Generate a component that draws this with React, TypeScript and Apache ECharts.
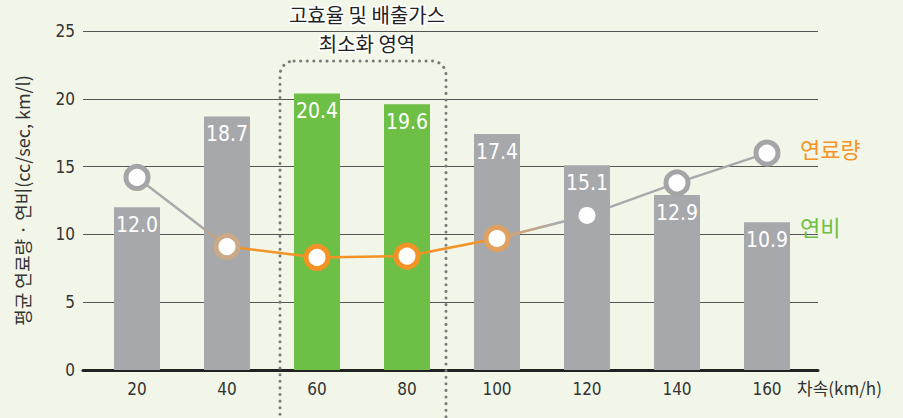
import React, { useEffect, useRef } from "react";
import * as echarts from "echarts";

// ---- data ----
const speeds = ["20", "40", "60", "80", "100", "120", "140", "160"];
const efficiency = [12.0, 18.7, 20.4, 19.6, 17.4, 15.1, 12.9, 10.9]; // 연비 (km/l)
const fuelAmount = [14.2, 9.1, 8.3, 8.4, 9.7, 11.4, 13.8, 16.0]; // 연료량 (cc/sec)
const optimalSpeeds = ["60", "80"];
const yTicks = { min: 0, max: 25, interval: 5 };
const titleLines = ["고효율 및 배출가스", "최소화 영역"];

// ---- styles ----
const GRAY = "#a7a8ab";
const GREEN = "#6dbf45";
const ORANGE = "#f39325";
const RING_COLORS = ["#a5a5a7", "#c9a987", ORANGE, ORANGE, "#e0a060", "#ffffff", "#a5a5a7", "#a5a5a7"];
const NARROW = "'Liberation Sans Narrow', 'DejaVu Sans Condensed', 'Roboto', sans-serif";
const KR = "'Noto Sans CJK KR', 'Noto Sans', sans-serif";
const BG = "#f1f6e9";

export default function App() {
  const ref = useRef<HTMLDivElement>(null);

  useEffect(() => {
    if (!ref.current) return;
    const chart = echarts.init(ref.current, null, { renderer: "svg" });

    const option: any = {
      animation: false,
      backgroundColor: BG,
      grid: [
        { left: 83, top: 31, width: 735, height: 339 },
        { left: 92, top: 31, width: 720, height: 339 },
      ],
      xAxis: [
        {
          gridIndex: 0,
          type: "value",
          min: 0,
          max: 1,
          axisLine: { show: true, onZero: false, lineStyle: { color: "#222", width: 3 } },
          axisTick: { show: false },
          axisLabel: { show: false },
          splitLine: { show: false },
        },
        {
          gridIndex: 1,
          type: "category",
          data: speeds,
          axisLine: { show: false },
          axisTick: { show: false },
          axisLabel: { color: "#333", fontSize: 17, fontFamily: NARROW, margin: 10 },
          splitLine: { show: false },
        },
      ],
      yAxis: [
        {
          gridIndex: 0,
          type: "value",
          min: yTicks.min,
          max: yTicks.max,
          interval: yTicks.interval,
          axisLine: { show: false },
          axisTick: { show: false },
          axisLabel: { color: "#333", fontSize: 17, fontFamily: NARROW, margin: 8 },
          splitLine: { show: true, showMinLine: false, lineStyle: { color: "#555", width: 1.2 } },
          name: "평균 연료량 · 연비(cc/sec, km/l)",
          nameLocation: "middle",
          nameRotate: 90,
          nameGap: 52,
          nameTextStyle: { color: "#333", fontSize: 18, fontFamily: KR },
        },
        {
          gridIndex: 1,
          type: "value",
          min: yTicks.min,
          max: yTicks.max,
          interval: yTicks.interval,
          show: false,
        },
      ],
      series: [
        {
          name: "연비",
          type: "bar",
          xAxisIndex: 1,
          yAxisIndex: 1,
          barWidth: 46,
          data: efficiency.map((v, i) => ({
            value: v,
            itemStyle: { color: optimalSpeeds.includes(speeds[i]) ? GREEN : GRAY },
          })),
          label: {
            show: true,
            position: "insideTop",
            distance: 7,
            color: "#fff",
            fontSize: 21,
            fontFamily: NARROW,
            formatter: (p: any) => Number(p.value).toFixed(1),
          },
          z: 2,
        },
        {
          name: "연료량",
          type: "line",
          xAxisIndex: 1,
          yAxisIndex: 1,
          symbol: "circle",
          lineStyle: {
            width: 2.5,
            color: new echarts.graphic.LinearGradient(0, 0, 1, 0, [
              { offset: 0, color: "#a9a9ab" },
              { offset: 0.1, color: "#a9a9ab" },
              { offset: 0.16, color: ORANGE },
              { offset: 0.55, color: ORANGE },
              { offset: 0.59, color: "#d9a36b" },
              { offset: 0.67, color: "#a9a9ab" },
              { offset: 1, color: "#a9a9ab" },
            ]),
          },
          data: fuelAmount.map((v, i) => ({
            value: v,
            symbolSize: RING_COLORS[i] === "#ffffff" ? 17 : 22,
            itemStyle: {
              color: "#fff",
              borderColor: RING_COLORS[i],
              borderWidth: RING_COLORS[i] === "#ffffff" ? 0 : 5,
            },
          })),
          z: 3,
        },
      ],
      graphic: [
        {
          type: "rect",
          z: 1,
          shape: { x: 280, y: 61, width: 166, height: 380, r: 14 },
          style: {
            fill: "none",
            stroke: "#7a7a7a",
            lineWidth: 3,
            lineDash: [0.1, 6.5],
            lineCap: "round",
          },
        },
        ...titleLines.map((t, i) => ({
          type: "text",
          z: 10,
          x: 367,
          y: 14 + i * 29,
          style: {
            text: t,
            fontSize: 20,
            fontFamily: KR,
            align: "center",
            verticalAlign: "middle",
            fill: "#222",
            stroke: "#ffffff",
            lineWidth: 3,
          },
        })),
        {
          type: "text",
          z: 10,
          x: 800,
          y: 148,
          style: {
            text: "연료량",
            fontSize: 22,
            fontFamily: KR,
            fill: ORANGE,
            verticalAlign: "middle",
          },
        },
        {
          type: "text",
          z: 10,
          x: 800,
          y: 226,
          style: {
            text: "연비",
            fontSize: 22,
            fontFamily: KR,
            fill: GREEN,
            verticalAlign: "middle",
          },
        },
        {
          type: "text",
          z: 10,
          x: 797,
          y: 387,
          style: {
            text: "차속(km/h)",
            fontSize: 17,
            fontFamily: KR,
            fill: "#333",
            verticalAlign: "middle",
          },
        },
      ],
    };

    chart.setOption(option);
    return () => chart.dispose();
  }, []);

  return (
    <div
      ref={ref}
      style={{ position: "fixed", left: 0, top: 0, width: 903, height: 418, background: BG }}
    />
  );
}
